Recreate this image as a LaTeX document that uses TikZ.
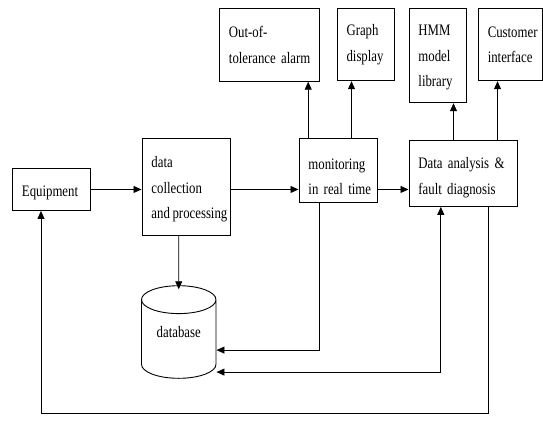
\documentclass[tikz,border=0pt]{standalone}
\usepackage{fontspec}
\setmainfont{Liberation Serif}[FakeStretch=0.8]
\usetikzlibrary{arrows.meta, shapes.geometric}
\hyphenpenalty=10000
\exhyphenpenalty=10000

\newcommand{\lift}[1]{\rule{0pt}{#1}}

\tikzset{
	blk/.style={draw, line width=0.9pt, rectangle, anchor=north west, inner xsep=9.5pt, inner ysep=0pt, align=left, font=\fontsize{16}{25.5}\selectfont},
	dbase/.style={draw, line width=0.9pt, cylinder, shape border rotate=90, aspect=0.55, minimum width=74.5pt, minimum height=92.6pt, anchor=shape center, text depth=20pt, font=\fontsize{16}{25.5}\selectfont},
	arr/.style={line width=0.8pt, -{Triangle[length=8pt,width=7pt]}},
	dbl/.style={line width=0.8pt, {Triangle[length=8pt,width=7pt]}-{Triangle[length=8pt,width=7pt]}}
}

\begin{document}
\begin{tikzpicture}[x=1pt, y=-1pt]
	\useasboundingbox (0,0) rectangle (543,420);
	
	\node[blk, text width=59pt, minimum height=42pt] (equip) at (12,168) {\lift{17pt}Equipment};
	\node[blk, text width=69pt, minimum height=97pt] (collect) at (141.5,137.5) {\lift{17pt}data\\collection\\\mbox{and\,processing}};
	\node[blk, text width=59pt, minimum height=64pt] (monitor) at (298.5,138) {\lift{23pt}monitoring\\\mbox{in real time}};
	\node[blk, text width=89pt, minimum height=66pt] (analysis) at (408.5,140) {\lift{20pt}Data analysis \&\\fault diagnosis};
	
	\node[blk, text width=81pt, minimum height=72.5pt] (alarm) at (219,8.3) {Out-of-\\\mbox{tolerance alarm}};
	\node[blk, text width=38.5pt, minimum height=72pt] (graph) at (336.6,8.3) {Graph\\display};
	\node[blk, text width=38pt, minimum height=94pt] (hmm) at (408.5,8.3) {\lift{14pt}HMM\\model\\library};
	\node[blk, text width=45.5pt, minimum height=72pt] (customer) at (477.8,8.3) {Customer\\interface};
	
	\node[dbase] (db) at (178.75,332) {database};
	
	% main line
	\draw[arr] (equip.east) -- (equip.east -| collect.west);
	\draw[arr] (equip.east -| collect.east) -- (equip.east -| monitor.west);
	\draw[arr] (equip.east -| monitor.east) -- (equip.east -| analysis.west);
	
	% outputs
	\draw[arr] ([xshift=9.7pt]monitor.north west) -- ([xshift=9.7pt]monitor.north west |- alarm.south);
	\draw[arr] ([xshift=53pt]monitor.north west) -- ([xshift=53pt]monitor.north west |- graph.south);
	\draw[arr] ([xshift=45pt]analysis.north west) -- ([xshift=45pt]analysis.north west |- hmm.south);
	\draw[arr] ([xshift=89pt]analysis.north west) -- ([xshift=89pt]analysis.north west |- customer.south);
	
	% storage
	\draw[arr] (collect.south -| db.center) -- ([yshift=-4pt]db.north);
	\draw[arr] ([xshift=21pt]monitor.south west) |- ([yshift=-8pt]db.east);
	\draw[dbl] ([yshift=-30pt]db.east) -| ([xshift=32.3pt]analysis.south west);
	
	% feedback
	\coordinate (fb) at (41,413.3);
	\draw[arr] ([xshift=79.5pt]analysis.south west) |- (fb) -- (equip.south -| fb);
\end{tikzpicture}
\end{document}
